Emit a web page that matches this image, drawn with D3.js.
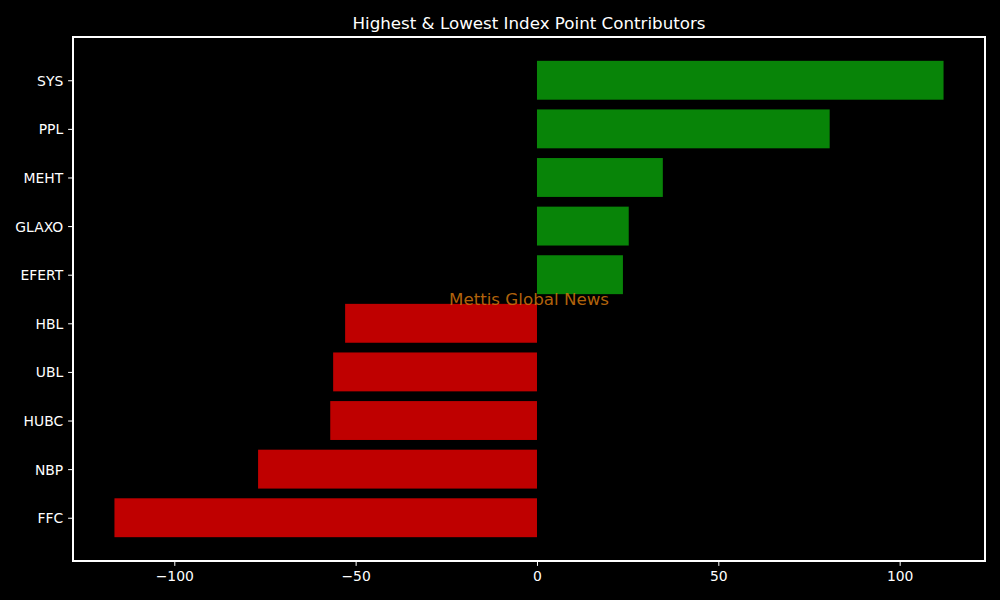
<!DOCTYPE html>
<html><head><meta charset="utf-8">
<script src="https://cdn.jsdelivr.net/npm/d3@7"></script>
<style>body{margin:0;background:#000;}svg{display:block;}text{font-family:"DejaVu Sans",sans-serif;}</style>
</head><body><svg id="c" width="1000" height="600"></svg>
<script>
const categories = ["SYS","PPL","MEHT","GLAXO","EFERT","HBL","UBL","HUBC","NBP","FFC"];
const values = [112.1, 80.7, 34.7, 25.3, 23.7, -52.9, -56.2, -57.0, -76.9, -116.5];
const xTicks = [-100, -50, 0, 50, 100];
const title = "Highest & Lowest Index Point Contributors";
const watermark = "Mettis Global News";

const svg = d3.select("#c");
svg.append("rect").attr("width",1000).attr("height",600).attr("fill","#000");
const L=73,R=985,T=37,B=561;
const mn=d3.min(values), mx=d3.max(values), pad=(mx-mn)*0.05;
const x=d3.scaleLinear().domain([mn-pad,mx+pad]).range([L,R]);
const n=categories.length;
const lo=-0.4, hi=n-1+0.4, m=(hi-lo)*0.05;
const y=d3.scaleLinear().domain([lo-m,hi+m]).range([T,B]);

svg.append("g").selectAll("rect").data(values).join("rect")
  .attr("x",d=>x(Math.min(0,d)))
  .attr("width",d=>Math.abs(x(d)-x(0)))
  .attr("y",(d,i)=>y(i-0.4))
  .attr("height",(d,i)=>y(i+0.4)-y(i-0.4))
  .attr("fill",d=>d>=0?"#088408":"#bf0000");

const xa=svg.append("g").attr("transform",`translate(0,${B})`)
  .call(d3.axisBottom(x).tickValues(xTicks).tickSize(4.9).tickPadding(4.9).tickFormat(d=>d<0?"\u2212"+Math.abs(d):d));
xa.select(".domain").remove();
xa.selectAll("line").attr("stroke","#fff");
xa.selectAll("text").attr("fill","#fff").attr("font-size","13.9px");

const ya=svg.append("g").attr("transform",`translate(${L},0)`)
  .call(d3.axisLeft(y).tickValues(d3.range(n)).tickSize(4.9).tickPadding(4.9).tickFormat(i=>categories[i]));
ya.select(".domain").remove();
ya.selectAll("line").attr("stroke","#fff");
ya.selectAll("text").attr("fill","#fff").attr("font-size","13.9px").attr("dy","0.36em");

svg.append("rect").attr("x",L).attr("y",T).attr("width",R-L).attr("height",B-T)
  .attr("fill","none").attr("stroke","#fff").attr("stroke-width",1.1).attr("shape-rendering","crispEdges");

svg.append("text").attr("x",(L+R)/2).attr("y",T-8).attr("text-anchor","middle")
  .attr("fill","#fff").attr("font-size","16.7px").text(title);

svg.append("text").attr("x",(L+R)/2).attr("y",(T+B)/2).attr("text-anchor","middle")
  .attr("dominant-baseline","central").attr("fill","#c8700d").attr("fill-opacity",0.9)
  .attr("font-size","16.7px").text(watermark);
</script></body></html>
